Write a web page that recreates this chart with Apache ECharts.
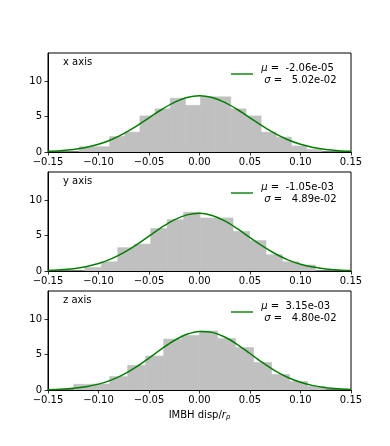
<!DOCTYPE html>
<html>
<head>
<meta charset="utf-8">
<script src="https://cdn.jsdelivr.net/npm/echarts@6/dist/echarts.min.js"></script>
<style>
html, body {margin: 0; padding: 0; background: #fff;}
#chart {width: 390px; height: 446px;}
</style>
</head>
<body>
<div id="chart"></div>
<script>
var panelNames = ["x axis", "y axis", "z axis"];
var muLabels = ["-2.06e-05", "-1.05e-03", "3.15e-03"];
var sigmaLabels = ["5.02e-02", "4.89e-02", "4.80e-02"];
var yTicks = [0, 5, 10];

// histogram bin edges and heights
var edgesX = [-0.119, -0.104, -0.089, -0.074, -0.059, -0.044, -0.029, -0.014, 0.001, 0.016, 0.031, 0.046, 0.061, 0.076, 0.091, 0.106, 0.121];
var heightsX = [0.75, 0.75, 2.2, 2.8, 5.1, 6.1, 7.6, 6.6, 7.8, 7.8, 6.1, 5.1, 2.8, 2.1, 0.85, 0.35];

var edgesY = [-0.1135, -0.0972, -0.0809, -0.0646, -0.0483, -0.032, -0.0157, 0.0006, 0.0169, 0.0332, 0.0495, 0.0658, 0.0821, 0.0984, 0.1147];
var heightsY = [0.5, 1.3, 3.3, 3.8, 6.0, 7.25, 8.3, 7.5, 7.5, 5.6, 4.3, 2.3, 1.3, 0.85];

var edgesZ = [-0.1245, -0.1067, -0.0889, -0.0711, -0.0533, -0.0355, -0.0177, 0.0001, 0.0179, 0.0357, 0.0535, 0.0713, 0.0891, 0.1069, 0.1247];
var heightsZ = [0.8, 0.85, 1.9, 3.5, 4.8, 7.2, 7.7, 8.35, 7.3, 6.0, 3.9, 2.2, 1.2, 0.5];

// fitted curves
var fitPos = [-0.15, -0.1375, -0.125, -0.1125, -0.1, -0.0875, -0.075, -0.0625, -0.05, -0.0375, -0.025, -0.0125, 0,
    0.0125, 0.025, 0.0375, 0.05, 0.0625, 0.075, 0.0875, 0.1, 0.1125, 0.125, 0.1375, 0.15];
var fitX = [0.09, 0.19, 0.36, 0.65, 1.09, 1.74, 2.60, 3.66, 4.84, 6.01, 7.02, 7.70, 7.95,
    7.70, 7.02, 6.01, 4.84, 3.66, 2.60, 1.74, 1.09, 0.65, 0.36, 0.19, 0.09];
var fitY = [0.08, 0.17, 0.33, 0.61, 1.05, 1.71, 2.60, 3.70, 4.94, 6.18, 7.24, 7.94, 8.16,
    7.85, 7.08, 5.98, 4.73, 3.51, 2.44, 1.58, 0.96, 0.55, 0.29, 0.15, 0.07];
var fitZ = [0.05, 0.11, 0.24, 0.46, 0.83, 1.40, 2.21, 3.26, 4.50, 5.81, 7.00, 7.88, 8.29,
    8.15, 7.49, 6.43, 5.16, 3.87, 2.71, 1.77, 1.09, 0.62, 0.33, 0.17, 0.08];

var allEdges = [edgesX, edgesY, edgesZ];
var allHeights = [heightsX, heightsY, heightsZ];
var allFits = [fitX, fitY, fitZ];

var gridTops = [53, 172, 291];
var font = "DejaVu Sans";

function renderBar(params, api) {
    var p0 = api.coord([api.value(0), api.value(2)]);
    var p1 = api.coord([api.value(1), 0]);
    return {
        type: "rect",
        shape: {x: p0[0], y: p0[1], width: p1[0] - p0[0], height: p1[1] - p0[1]},
        style: {fill: "#c0c0c0", stroke: "#c0c0c0", lineWidth: 0.6}
    };
}

function xLabel(v) {
    if (Math.abs(v) < 1e-9) {
        return "0.00";
    }
    return (v < 0 ? "\u2212" : "") + Math.abs(v).toFixed(2);
}

function yLabel(v) {
    return yTicks.indexOf(v) == -1 ? "" : "" + v;
}

var option = {
    animation: false,
    backgroundColor: "#fff",
    grid: [],
    xAxis: [],
    yAxis: [],
    title: [],
    legend: [],
    series: []
};

for (var i = 0; i < 3; i++) {
    option.grid.push({left: 48, top: gridTops[i], width: 303, height: 99,
        show: true, borderColor: "#000", borderWidth: 1, backgroundColor: "transparent"});
    var xa = {
        type: "value", gridIndex: i, min: -0.15, max: 0.15, interval: 0.05,
        splitLine: {show: false},
        axisLine: {show: true, onZero: false, lineStyle: {color: "#000", width: 1}},
        axisTick: {show: true, inside: false, length: 3.5, lineStyle: {color: "#000", width: 0.8}},
        axisLabel: {formatter: xLabel, color: "#000", fontFamily: font, fontSize: 10, margin: 5,
            showMinLabel: true, showMaxLabel: true}
    };
    if (i == 2) {
        xa.name = "IMBH disp/{r|r}{p|p}";
        xa.nameLocation = "middle";
        xa.nameGap = 20;
        xa.nameTextStyle = {color: "#000", fontFamily: font, fontSize: 10,
            rich: {
                r: {fontStyle: "italic", fontFamily: font, fontSize: 10, color: "#000"},
                p: {fontStyle: "italic", fontFamily: font, fontSize: 7, color: "#000", verticalAlign: "bottom", padding: [4, 0, 0, 0]}
            }};
    }
    option.xAxis.push(xa);
    option.yAxis.push({
        type: "value", gridIndex: i, min: 0, max: 14, interval: 5,
        splitLine: {show: false},
        axisLine: {show: true, onZero: false, lineStyle: {color: "#000", width: 1}},
        axisTick: {show: true, inside: false, length: 3.5, customValues: yTicks, lineStyle: {color: "#000", width: 0.8}},
        axisLabel: {formatter: yLabel, customValues: yTicks, color: "#000", fontFamily: font, fontSize: 10, margin: 6}
    });
    option.title.push({
        text: panelNames[i], left: 63, top: gridTops[i] + 4, padding: 0,
        textStyle: {fontFamily: font, fontSize: 10, fontWeight: "normal", color: "#000"}
    });

    var bars = [];
    for (var b = 0; b < allHeights[i].length; b++) {
        bars.push([allEdges[i][b], allEdges[i][b + 1], allHeights[i][b]]);
    }
    option.series.push({
        type: "custom", name: "hist" + i, xAxisIndex: i, yAxisIndex: i,
        renderItem: renderBar, encode: {x: [0, 1], y: 2}, data: bars, clip: true, z: 2
    });

    var curve = [];
    for (var k = 0; k < fitPos.length; k++) {
        curve.push([fitPos[k], allFits[i][k]]);
    }
    option.series.push({
        type: "line", name: "fit" + i, xAxisIndex: i, yAxisIndex: i,
        data: curve, smooth: 0.35, showSymbol: false, symbol: "none",
        lineStyle: {color: "#008000", width: 1.5}, itemStyle: {color: "#008000"}, z: 3
    });

    option.legend.push({
        data: ["fit" + i], left: 231, top: gridTops[i] + 9, padding: 0,
        icon: "rect", itemWidth: 22, itemHeight: 1.8, selectedMode: false,
        itemStyle: {color: "#3c9f3c"},
        formatter: (function (idx) {
            return function () {
                return " {i|\u03bc} =  " + muLabels[idx] + "\n  {i|\u03c3} =   " + sigmaLabels[idx];
            };
        })(i),
        textStyle: {fontFamily: font, fontSize: 10, color: "#000", lineHeight: 12,
            rich: {i: {fontStyle: "italic", fontFamily: font, fontSize: 10, color: "#000", lineHeight: 12}}}
    });
}

var chart = echarts.init(document.getElementById("chart"), null, {renderer: "canvas"});
chart.setOption(option);
</script>
</body>
</html>
